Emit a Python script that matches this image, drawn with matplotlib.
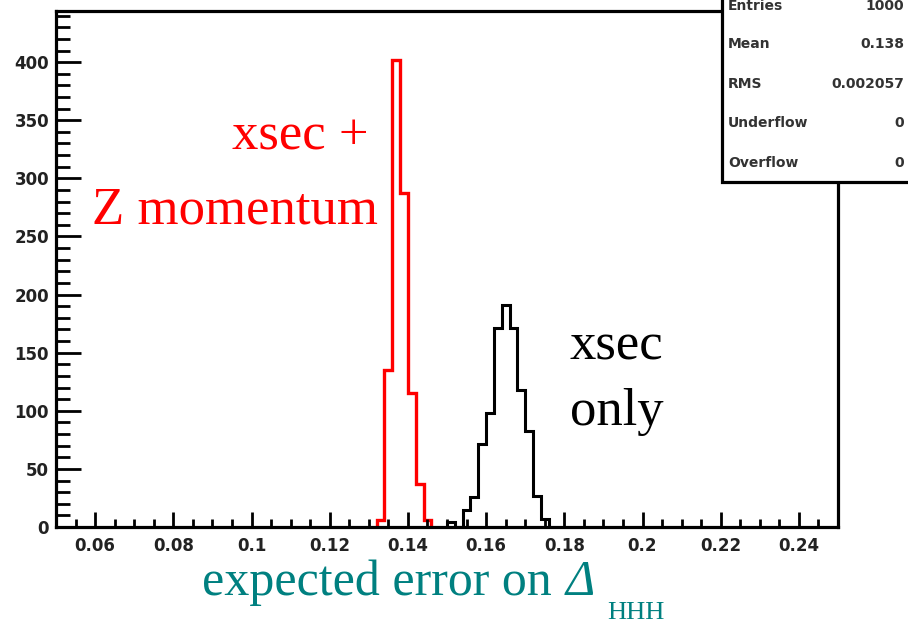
import matplotlib
matplotlib.use("Agg")
import matplotlib.pyplot as plt
import numpy as np
from matplotlib.ticker import MultipleLocator, FixedLocator, FixedFormatter
from matplotlib.patches import Rectangle

# Histogram binning (100 bins between 0.05 and 0.25)
bin_lo = 0.05
bin_hi = 0.25
bin_width = 0.002

# Expected error distribution: fit using cross section and Z momentum
red_first_edge = 0.132
red_counts = [6, 135, 402, 287, 115, 37, 6]

# Expected error distribution: fit using cross section only
black_first_edge = 0.150
black_counts = [4, 0, 15, 26, 71, 98, 171, 191, 171, 118, 83, 27, 7]

xtick_values = [0.06, 0.08, 0.10, 0.12, 0.14, 0.16, 0.18, 0.20, 0.22, 0.24]
xtick_labels = ["0.06", "0.08", "0.1", "0.12", "0.14", "0.16", "0.18", "0.2", "0.22", "0.24"]
ytick_values = [0, 50, 100, 150, 200, 250, 300, 350, 400]
ytick_labels = ["0", "50", "100", "150", "200", "250", "300", "350", "400"]
y_max = 444

stats_names = ["Entries", "Mean", "RMS", "Underflow", "Overflow"]
stats_values = ["1000", "0.138", "0.002057", "0", "0"]

W, H = 908, 624
fig = plt.figure(figsize=(W / 100, H / 100), dpi=100)


def fx(x):
    return x / W


def fy(y):
    return 1 - y / H


ax = fig.add_axes([fx(56), fy(527), fx(838) - fx(56), fy(11) - fy(527)])


def hist_edges(first_edge, counts):
    i0 = int(round((first_edge - bin_lo) / bin_width))
    return bin_lo + bin_width * np.arange(i0, i0 + len(counts) + 1)


ax.stairs(black_counts, hist_edges(black_first_edge, black_counts),
          color="black", lw=2.2, baseline=0)
ax.stairs(red_counts, hist_edges(red_first_edge, red_counts),
          color="#ff0000", lw=2.4, baseline=0)

ax.set_xlim(bin_lo, bin_hi)
ax.set_ylim(0, y_max)

ax.xaxis.set_major_locator(FixedLocator(xtick_values))
ax.xaxis.set_major_formatter(FixedFormatter(xtick_labels))
ax.xaxis.set_minor_locator(MultipleLocator(0.005))
ax.yaxis.set_major_locator(FixedLocator(ytick_values))
ax.yaxis.set_major_formatter(FixedFormatter(ytick_labels))
ax.yaxis.set_minor_locator(MultipleLocator(10))

for s in ax.spines.values():
    s.set_linewidth(2.3)
    s.set_zorder(3)

ax.tick_params(axis="both", which="both", direction="in", top=False, right=False,
               width=2.0, color="black", labelcolor="#222222")
ax.tick_params(axis="y", which="major", length=18, pad=5)
ax.tick_params(axis="y", which="minor", length=10)
ax.tick_params(axis="x", which="major", length=10.8, pad=7)
ax.tick_params(axis="x", which="minor", length=5.8)
for lab in ax.get_xticklabels() + ax.get_yticklabels():
    lab.set_fontfamily("DejaVu Sans")
    lab.set_fontweight("bold")
    lab.set_fontsize(12)

# Annotations
serif = "Liberation Serif"
fig.text(fx(232), fy(149), "xsec +", family=serif, size=38, color="#ff0000", va="baseline")
fig.text(fx(92), fy(223), "Z momentum", family=serif, size=38, color="#ff0000", va="baseline")
fig.text(fx(570), fy(360), "xsec", family=serif, size=38, color="black", va="baseline")
fig.text(fx(570), fy(425), "only", family=serif, size=38, color="black", va="baseline")

# Axis title
teal = "#008080"
fig.text(fx(202), fy(595), "expected error on", family=serif, size=36, color=teal, va="baseline")
fig.text(fx(566), fy(595), "\u0394", family=serif, style="italic", size=36, color=teal, va="baseline")
fig.text(fx(607), fy(619), "HHH", family=serif, size=19, color=teal, va="baseline")

# Statistics box
box = Rectangle((fx(721.5), fy(181.5)), 1.0, 1.0, transform=fig.transFigure,
                facecolor="white", edgecolor="black", lw=2.3, clip_on=False, zorder=5)
fig.add_artist(box)
row_baselines = [10, 48, 87.5, 127, 166.5]
for name, val, yb in zip(stats_names, stats_values, row_baselines):
    fig.text(fx(728), fy(yb), name, family="DejaVu Sans", weight="bold", size=10,
             color="#333333", va="baseline", ha="left", zorder=6)
    fig.text(fx(904), fy(yb), val, family="DejaVu Sans", weight="bold", size=10,
             color="#333333", va="baseline", ha="right", zorder=6)

fig.savefig("out.png", dpi=100)
